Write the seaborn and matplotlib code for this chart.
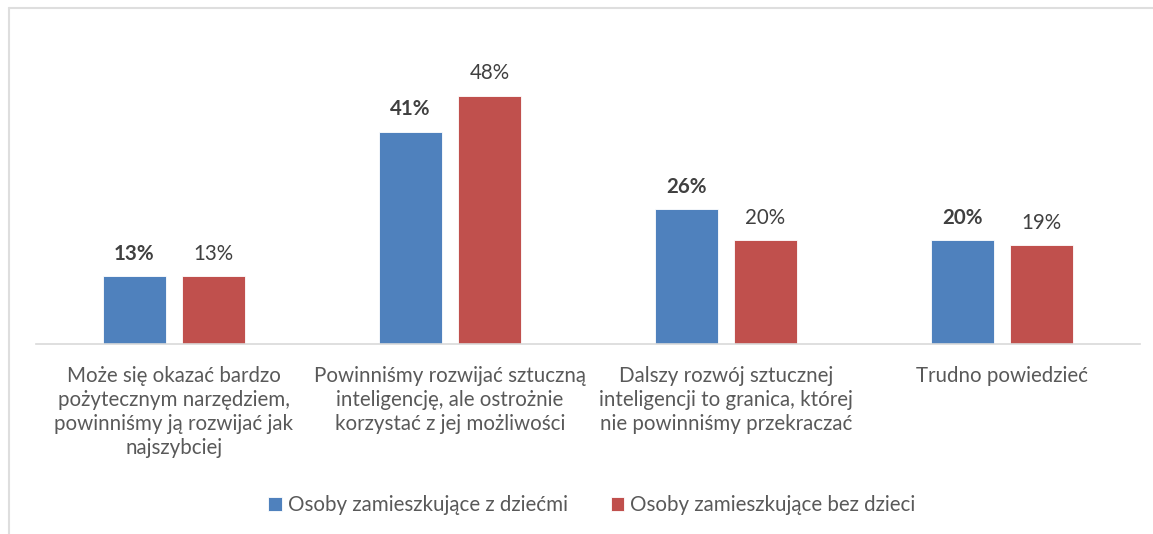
import matplotlib
matplotlib.use("Agg")
import matplotlib.pyplot as plt
from matplotlib.lines import Line2D
import pandas as pd
import seaborn as sns

# Data
categories = [
    "Może się okazać bardzo\npożytecznym narzędziem,\npowinniśmy ją rozwijać jak\nnajszybciej",
    "Powinniśmy rozwijać sztuczną\ninteligencję, ale ostrożnie\nkorzystać z jej możliwości",
    "Dalszy rozwój sztucznej\ninteligencji to granica, której\nnie powinniśmy przekraczać",
    "Trudno powiedzieć",
]
series_names = ["Osoby zamieszkujące z dziećmi", "Osoby zamieszkujące bez dzieci"]
with_children = [13, 41, 26, 20]
without_children = [13, 48, 20, 19]

colors = {series_names[0]: "#4F81BD", series_names[1]: "#C0504D"}

df = pd.DataFrame({
    "Kategoria": categories * 2,
    "Grupa": [series_names[0]] * 4 + [series_names[1]] * 4,
    "Procent": with_children + without_children,
})

sns.set_theme(style="white")
plt.rcParams["font.family"] = ["Lato", "DejaVu Sans"]
text_color = "#595959"
fs = 14.8

fig = plt.figure(figsize=(11.53, 5.34), dpi=100)
ax = fig.add_axes([36 / 1153, 190.5 / 534, 1104 / 1153, 310 / 534])

sns.barplot(
    data=df, x="Kategoria", y="Procent", hue="Grupa",
    palette=colors, saturation=1, width=0.573, gap=0.205, ax=ax,
    edgecolor="white", linewidth=0.6, legend=True,
)

ax.set_ylim(0, 60)
ax.set_xlim(-0.5, 3.5)
ax.set_xlabel("")
ax.set_ylabel("")
ax.set_yticks([])
for side in ["top", "right", "left"]:
    ax.spines[side].set_visible(False)
ax.spines["bottom"].set_color("#D9D9D9")
ax.spines["bottom"].set_linewidth(1.2)
ax.tick_params(axis="x", length=0, pad=16, labelsize=fs, labelcolor=text_color)
for lbl in ax.get_xticklabels():
    lbl.set_linespacing(1.25)

# value labels: bold for the first series
for i, cont in enumerate(ax.containers):
    ax.bar_label(
        cont, labels=[f"{v:.0f}%" for v in cont.datavalues], padding=9,
        fontsize=fs, color="#404040", fontweight="bold" if i == 0 else "normal",
    )

handles, labels = ax.get_legend_handles_labels()
ax.legend(
    handles, labels, loc="center", bbox_to_anchor=(592 / 1153, 1 - 505 / 534),
    bbox_transform=fig.transFigure, ncol=2, frameon=False, fontsize=fs,
    labelcolor=text_color, handlelength=0.65, handleheight=0.65,
    handletextpad=0.3, columnspacing=2.1,
)

# light chart frame (cropped on the right and bottom)
x0, y0 = 9 / 1153, 1 - 8 / 534
fig.add_artist(Line2D([x0, 1.0], [y0, y0], transform=fig.transFigure, color="#DEDEDE", lw=1.5))
fig.add_artist(Line2D([x0, x0], [0, y0], transform=fig.transFigure, color="#DEDEDE", lw=1.5))

fig.savefig("out.png", dpi=100, facecolor="white")
